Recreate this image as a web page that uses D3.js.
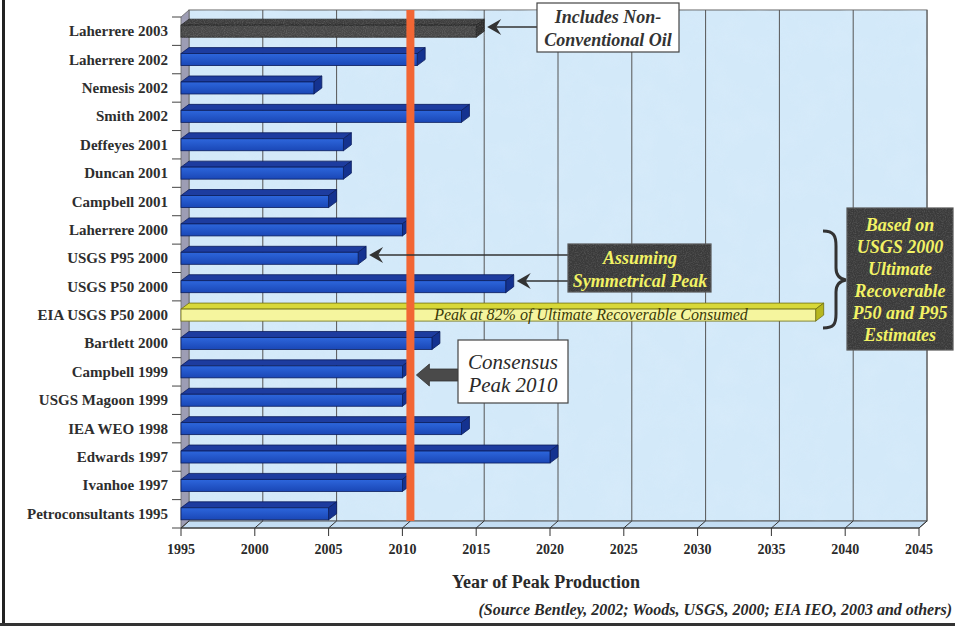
<!DOCTYPE html>
<html>
<head>
<meta charset="utf-8">
<script src="https://cdn.jsdelivr.net/npm/d3@7"></script>
<style>
  body { margin: 0; background: #fff; }
  svg { display: block; }
  text { font-family: "Liberation Serif", "Times New Roman", serif; }
</style>
</head>
<body>
<div id="chart"></div>
<script>
// studies, top to bottom
const studies = [
  "Laherrere 2003", "Laherrere 2002", "Nemesis 2002", "Smith 2002",
  "Deffeyes 2001", "Duncan 2001", "Campbell 2001", "Laherrere 2000",
  "USGS P95 2000", "USGS P50 2000", "EIA USGS P50 2000", "Bartlett 2000",
  "Campbell 1999", "USGS Magoon 1999", "IEA WEO 1998", "Edwards 1997",
  "Ivanhoe 1997", "Petroconsultants 1995"
];
// predicted year of peak
const peakYears = [2015, 2011, 2004, 2014, 2006, 2006, 2005, 2010, 2007, 2017,
                   2038, 2012, 2010, 2010, 2014, 2020, 2010, 2005];
// bar kind: std / nonconv / eia
const barKind = ["nonconv", "std", "std", "std", "std", "std", "std", "std", "std", "std",
                 "eia", "std", "std", "std", "std", "std", "std", "std"];
const yearTicks = [1995, 2000, 2005, 2010, 2015, 2020, 2025, 2030, 2035, 2040, 2045];
const consensusYear = 2010;

const W = 955, H = 626;
const svg = d3.select("#chart").append("svg").attr("width", W).attr("height", H);

const x = d3.scaleLinear().domain([1995, 2045]).range([181, 919]);
const y = d3.scaleBand().domain(studies).range([17, 528]);
const DX = 8, DY = -7;          // depth of the 3D walls
const BDX = 8, BDY = -6;        // depth of the bars
const bh = 12;                  // height of bar front face

const defs = svg.append("defs");
const tex = defs.append("filter").attr("id", "tex").attr("x", 0).attr("y", 0).attr("width", 1).attr("height", 1);
tex.append("feTurbulence").attr("type", "fractalNoise").attr("baseFrequency", 0.035).attr("numOctaves", 3).attr("seed", 4);
tex.append("feColorMatrix").attr("type", "matrix")
  .attr("values", "0 0 0 0 0.70  0 0 0 0 0.84  0 0 0 0 0.96  1.1 0 0 0 -0.45");
const gtex = defs.append("filter").attr("id", "gtex").attr("x", 0).attr("y", 0).attr("width", 1).attr("height", 1);
gtex.append("feTurbulence").attr("type", "fractalNoise").attr("baseFrequency", 0.9).attr("numOctaves", 2).attr("seed", 2);
gtex.append("feColorMatrix").attr("type", "matrix")
  .attr("values", "0 0 0 0 0.55  0 0 0 0 0.55  0 0 0 0 0.55  0.9 0 0 0 -0.35");

const grad = defs.append("linearGradient").attr("id", "blueFront").attr("x1", 0).attr("y1", 0).attr("x2", 0).attr("y2", 1);
grad.append("stop").attr("offset", "0%").attr("stop-color", "#2d66dc");
grad.append("stop").attr("offset", "100%").attr("stop-color", "#1a47b6");

// outer frame
svg.append("line").attr("x1", 3.5).attr("x2", 3.5).attr("y1", 0).attr("y2", H).attr("stroke", "#222").attr("stroke-width", 3);
svg.append("line").attr("x1", 0).attr("x2", W).attr("y1", 624.5).attr("y2", 624.5).attr("stroke", "#333").attr("stroke-width", 3);

const x0 = x(1995), x1 = x(2045), yTop = y.range()[0], yBot = y.range()[1];

// back wall
svg.append("rect").attr("x", x0 + DX).attr("y", yTop + DY).attr("width", x1 - x0).attr("height", yBot - yTop)
  .attr("fill", "#d3e9f9").attr("stroke", "#666").attr("stroke-width", 1);
svg.append("rect").attr("x", x0 + DX).attr("y", yTop + DY).attr("width", x1 - x0).attr("height", yBot - yTop)
  .attr("filter", "url(#tex)").attr("opacity", 0.8);

// floor
svg.append("path")
  .attr("d", `M${x0},${yBot} L${x0 + DX},${yBot + DY} L${x1 + DX},${yBot + DY} L${x1},${yBot} Z`)
  .attr("fill", "#c3ddf3").attr("stroke", "#555").attr("stroke-width", 1);

// grid lines on back wall
svg.append("g").selectAll("line").data(yearTicks.slice(1)).join("line")
  .attr("x1", d => x(d) + DX).attr("x2", d => x(d) + DX)
  .attr("y1", yTop + DY).attr("y2", yBot + DY)
  .attr("stroke", "#555").attr("stroke-width", 1);

// left wall
svg.append("path")
  .attr("d", `M${x0},${yTop} L${x0 + DX},${yTop + DY} L${x0 + DX},${yBot + DY} L${x0},${yBot} Z`)
  .attr("fill", "#9d9db4").attr("stroke", "#666").attr("stroke-width", 0.8);

// x axis: floor ticks
const xa = svg.append("g");
xa.selectAll("path.ft").data(yearTicks).join("path")
  .attr("d", d => `M${x(d) + DX},${yBot + DY} L${x(d)},${yBot} L${x(d)},${yBot + 8}`)
  .attr("fill", "none").attr("stroke", "#333").attr("stroke-width", 1);
xa.append("line").attr("x1", x0).attr("x2", x1).attr("y1", yBot).attr("y2", yBot).attr("stroke", "#333");
xa.selectAll("text").data(yearTicks).join("text")
  .attr("x", d => x(d)).attr("y", 554)
  .attr("text-anchor", "middle").attr("font-weight", "bold").attr("font-size", 14).attr("fill", "#2a2a2a")
  .text(d => d);

// y axis ticks and labels
const ya = svg.append("g");
const bounds = studies.map(s => y(s)).concat([yBot]);
ya.selectAll("line").data(bounds).join("line")
  .attr("x1", x0 - 9).attr("x2", x0).attr("y1", d => d).attr("y2", d => d)
  .attr("stroke", "#444").attr("stroke-width", 1);
ya.selectAll("text").data(studies).join("text")
  .attr("x", 168).attr("y", d => y(d) + y.bandwidth() / 2 + 5)
  .attr("text-anchor", "end").attr("font-weight", "bold").attr("font-size", 15).attr("fill", "#2e2e2e")
  .text(d => d);

// bars
const colors = {
  std: { front: "url(#blueFront)", top: "#1d3c9f", side: "#143290", stroke: "#0b1d5c" },
  nonconv: { front: "#474747", top: "#3d3d3d", side: "#2f2f2f", stroke: "#222" },
  eia: { front: "#f5f59e", top: "#d8d838", side: "#b7b71e", stroke: "#6e6e12" }
};
const bars = svg.append("g");
studies.forEach((s, i) => {
  const c = colors[barKind[i]];
  const cy = y(s) + y.bandwidth() / 2;
  const t = cy - bh / 2, b = cy + bh / 2;
  const xe = x(peakYears[i]);
  const g = bars.append("g");
  g.append("path")
    .attr("d", `M${x0},${t} L${x0 + BDX},${t + BDY} L${xe + BDX},${t + BDY} L${xe},${t} Z`)
    .attr("fill", c.top).attr("stroke", c.stroke).attr("stroke-width", 0.8);
  g.append("path")
    .attr("d", `M${xe},${t} L${xe + BDX},${t + BDY} L${xe + BDX},${b + BDY} L${xe},${b} Z`)
    .attr("fill", c.side).attr("stroke", c.stroke).attr("stroke-width", 0.8);
  g.append("rect").attr("x", x0).attr("y", t).attr("width", xe - x0).attr("height", bh)
    .attr("fill", c.front).attr("stroke", c.stroke).attr("stroke-width", 0.8);
  if (barKind[i] === "nonconv") {
    g.append("rect").attr("x", x0).attr("y", t + BDY).attr("width", xe - x0 + BDX).attr("height", bh - BDY)
      .attr("filter", "url(#gtex)").attr("opacity", 0.5);
  }
});

// text inside the EIA bar
const eiaIdx = barKind.indexOf("eia");
svg.append("text")
  .attr("x", 591).attr("y", y(studies[eiaIdx]) + y.bandwidth() / 2 + 5)
  .attr("text-anchor", "middle").attr("font-style", "italic").attr("font-size", 16).attr("fill", "#3a3a08")
  .text("Peak at 82% of Ultimate Recoverable Consumed");

// consensus peak line
svg.append("line")
  .attr("x1", x(consensusYear) + DX).attr("x2", x(consensusYear) + DX)
  .attr("y1", yTop + DY).attr("y2", yBot + DY)
  .attr("stroke", "#f26634").attr("stroke-width", 8);

// helpers
function lineArrow(xFrom, xTo, yy) {
  svg.append("line").attr("x1", xFrom).attr("x2", xTo + 8).attr("y1", yy).attr("y2", yy)
    .attr("stroke", "#333").attr("stroke-width", 1.5);
  svg.append("path")
    .attr("d", `M${xTo},${yy} L${xTo + 14},${yy - 8} L${xTo + 9},${yy} L${xTo + 14},${yy + 8} Z`)
    .attr("fill", "#333");
}
function box(bx, by, bw, bhh, fill, stroke) {
  svg.append("rect").attr("x", bx).attr("y", by).attr("width", bw).attr("height", bhh)
    .attr("fill", fill).attr("stroke", stroke).attr("stroke-width", 1.2);
  if (fill !== "#fff") {
    svg.append("rect").attr("x", bx).attr("y", by).attr("width", bw).attr("height", bhh)
      .attr("filter", "url(#gtex)").attr("opacity", 0.45);
  }
}
function lines(arr, cx, y0, dy, size, color, weight) {
  arr.forEach((t, k) => {
    svg.append("text").attr("x", cx).attr("y", y0 + k * dy)
      .attr("text-anchor", "middle").attr("font-style", "italic").attr("font-weight", weight)
      .attr("font-size", size).attr("fill", color).text(t);
  });
}

// "Includes Non-Conventional Oil"
const i03 = 0;
lineArrow(537, x(peakYears[i03]) + BDX + 3, 27);
box(537, 3, 142, 49, "#fff", "#444");
lines(["Includes Non-", "Conventional Oil"], 608, 23, 23, 18, "#333", "bold");

// "Assuming Symmetrical Peak"
const p95 = studies.indexOf("USGS P95 2000"), p50 = studies.indexOf("USGS P50 2000");
lineArrow(568, x(peakYears[p95]) + BDX + 3, 255);
lineArrow(568, x(peakYears[p50]) + BDX + 3, 281);
box(568, 244, 143, 48, "#3a3a3a", "#555");
lines(["Assuming", "Symmetrical Peak"], 640, 264, 23, 18, "#f2f264", "bold");

// "Consensus Peak 2010"
const ax = x(consensusYear) + DX + 6, ay = 375;
svg.append("path")
  .attr("d", `M${ax},${ay} L${ax + 13},${ay - 11} L${ax + 13},${ay - 6} L458,${ay - 6} L458,${ay + 6} L${ax + 13},${ay + 6} L${ax + 13},${ay + 11} Z`)
  .attr("fill", "#4a4a4a").attr("stroke", "#333").attr("stroke-width", 0.8);
box(458, 340, 110, 63, "#fff", "#444");
lines(["Consensus", "Peak 2010"], 513, 369, 23, 21, "#2a2a2a", "normal");

// brace + USGS box
svg.append("path")
  .attr("d", "M823,231 C834,231 836,236 836,246 L836,268 C836,276 840,279 846,280 C840,281 836,284 836,292 L836,314 C836,324 834,328 823,328")
  .attr("fill", "none").attr("stroke", "#333").attr("stroke-width", 3);
box(847, 208, 106, 142, "#3a3a3a", "#555");
lines(["Based on", "USGS 2000", "Ultimate", "Recoverable", "P50 and P95", "Estimates"], 900, 231, 22, 18, "#f2f264", "bold");

// axis title + source
svg.append("text").attr("x", 546).attr("y", 588).attr("text-anchor", "middle")
  .attr("font-weight", "bold").attr("font-size", 18).attr("fill", "#2a2a2a")
  .text("Year of Peak Production");
svg.append("text").attr("x", 952).attr("y", 615).attr("text-anchor", "end")
  .attr("font-weight", "bold").attr("font-style", "italic").attr("font-size", 16).attr("fill", "#2a2a2a")
  .text("(Source Bentley, 2002; Woods, USGS, 2000; EIA IEO, 2003 and others)");
</script>
</body>
</html>
